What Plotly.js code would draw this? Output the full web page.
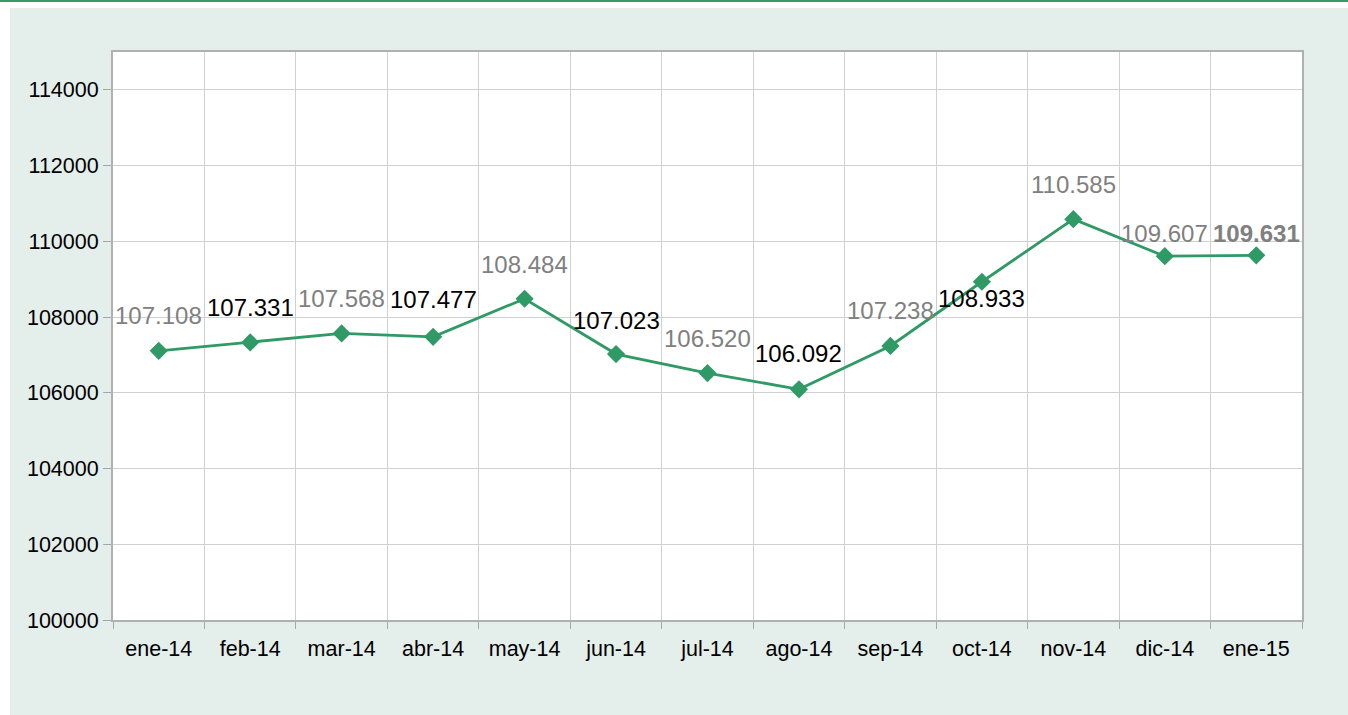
<!DOCTYPE html>
<html>
<head>
<meta charset="utf-8">
<script src="https://cdn.plot.ly/plotly-3.0.1.min.js"></script>
<style>
html,body{margin:0;padding:0;background:#ffffff;width:1348px;height:715px;overflow:hidden;}
#topline{position:absolute;left:0;top:0;width:1348px;height:2px;background:#3a9a6b;}
#chart{position:absolute;left:10px;top:8px;width:1338px;height:707px;}
</style>
</head>
<body>
<div id="topline"></div>
<div id="chart"></div>
<script>
const months = ["ene-14","feb-14","mar-14","abr-14","may-14","jun-14","jul-14","ago-14","sep-14","oct-14","nov-14","dic-14","ene-15"];
const values = [107108,107331,107568,107477,108484,107023,106520,106092,107238,108933,110585,109607,109631];
const labelTexts = ["107.108","107.331","107.568","107.477","108.484","107.023","106.520","106.092","107.238","108.933","110.585","109.607","109.631"];
const labelColors = ["#808080","#000000","#808080","#000000","#808080","#000000","#808080","#000000","#808080","#000000","#808080","#808080","#808080"];
const labelBold = [false,false,false,false,false,false,false,false,false,false,false,false,true];
const labelShift = [35,35,35,37,34,34,35,36,35,-17,35,23,22];

const FONT = "Liberation Sans, Arial, sans-serif";
const green = "#2f9a66";

const annotations = months.map((m, i) => ({
  x: m, y: values[i], xref: "x", yref: "y",
  text: labelBold[i] ? "<b>" + labelTexts[i] + "</b>" : labelTexts[i],
  showarrow: false, yshift: labelShift[i],
  font: {family: FONT, size: 24, color: labelColors[i]}
}));

const trace = {
  x: months, y: values, type: "scatter", mode: "lines+markers",
  line: {color: green, width: 2.8},
  marker: {symbol: "diamond", size: 14, color: green},
  hoverinfo: "x+y"
};

const layout = {
  width: 1338, height: 707,
  paper_bgcolor: "#e4eeeb", plot_bgcolor: "#ffffff",
  margin: {l: 103, r: 46, t: 44, b: 95},
  showlegend: false,
  font: {family: FONT, size: 21, color: "#000000"},
  xaxis: {
    type: "category", range: [-0.5, 12.5],
    tickson: "boundaries", ticks: "outside", ticklen: 7, tickcolor: "#a6a6a6", tickwidth: 1,
    showgrid: true, gridcolor: "#d0d0d0", gridwidth: 1,
    showline: true, linecolor: "#b0b0b0", linewidth: 2, mirror: true,
    tickfont: {family: FONT, size: 21.5, color: "#000000"},
    ticklabelstandoff: 8,
    fixedrange: true
  },
  yaxis: {
    range: [100000, 115000], tick0: 100000, dtick: 2000,
    ticks: "outside", ticklen: 8, tickcolor: "#a6a6a6", tickwidth: 1,
    showgrid: true, gridcolor: "#d0d0d0", gridwidth: 1,
    showline: true, linecolor: "#b0b0b0", linewidth: 2, mirror: true,
    zeroline: false, tickformat: "d",
    tickfont: {family: FONT, size: 21.5, color: "#000000"},
    fixedrange: true
  },
  annotations: annotations
};

Plotly.newPlot("chart", [trace], layout, {displayModeBar: false, staticPlot: true});
</script>
</body>
</html>
